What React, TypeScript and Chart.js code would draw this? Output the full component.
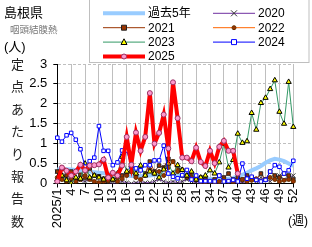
import React, { useEffect, useRef } from 'react';
import { Chart, registerables } from 'chart.js';
Chart.register(...registerables);

const weeks = ['2025/1','2','3','4','5','6','7','8','9','10','11','12','13','14','15','16','17','18','19','20','21','22','23','24','25','26','27','28','29','30','31','32','33','34','35','36','37','38','39','40','41','42','43','44','45','46','47','48','49','50','51','52'];
const yTicks = [0, 0.5, 1, 1.5, 2, 2.5, 3];
const seriesNames = ['過去5年', '2020', '2021', '2022', '2023', '2024', '2025'];

const past5 = [0.35,0.36,0.36,0.35,0.34,0.33,0.32,0.3,0.28,0.27,0.26,0.25,0.24,0.22,0.2,0.2,0.19,0.19,0.18,0.2,0.2,0.22,0.22,0.23,0.25,0.25,0.22,0.2,0.18,0.16,0.14,0.13,0.12,0.11,0.11,0.1,0.1,0.12,0.14,0.18,0.22,0.27,0.33,0.38,0.44,0.52,0.58,0.62,0.6,0.56,0.5,0.44];
const y2020 = [0.3,0.2,0.15,0.1,0.05,0.08,0.05,0.1,0.05,0.02,0.05,0.02,0.0,0.02,0.05,0.02,0.0,0.02,0.05,0.02,0.02,0.05,0.1,0.05,0.02,0.05,0.02,0.05,0.1,0.05,0.02,0.0,0.02,0.05,0.02,0.0,0.02,0.05,0.02,0.05,0.02,0.05,0.1,0.05,0.15,0.1,0.05,0.15,0.2,0.1,0.15,0.2];
const y2021 = [0.3,0.15,0.2,0.3,0.1,0.22,0.15,0.38,0.2,0.18,0.12,0.05,0.1,0.15,0.2,0.25,0.3,0.2,0.35,0.25,0.55,0.3,0.45,0.4,0.62,0.55,0.35,0.2,0.15,0.25,0.1,0.15,0.1,0.05,0.1,0.2,0.15,0.25,0.1,0.15,0.1,0.2,0.15,0.1,0.25,0.1,0.3,0.2,0.15,0.25,0.2,0.1];
const y2022 = [0.15,0.1,0.05,0.12,0.05,0.1,0.2,0.1,0.05,0.02,0.05,0.08,0.1,0.05,0.12,0.2,0.3,0.15,0.1,0.2,0.35,0.25,0.3,0.2,0.4,0.55,0.3,0.35,0.2,0.15,0.1,0.05,0.02,0.05,0.02,0.05,0.1,0.05,0.02,0.05,0.1,0.05,0.08,0.12,0.05,0.1,0.15,0.1,0.05,0.08,0.1,0.05];
const y2023 = [0.1,0.2,0.08,0.0,0.15,0.12,0.5,0.15,0.2,0.15,0.1,0.2,0.1,0.25,0.67,0.3,0.45,0.25,0.45,0.2,0.3,0.25,0.15,0.35,0.5,0.25,0.46,0.34,0.2,0.3,0.1,0.15,0.2,0.33,0.25,0.53,1.0,0.4,0.59,1.25,1.02,1.06,1.77,1.35,2.02,2.15,2.37,2.59,1.8,1.5,2.55,1.42];
const y2024 = [1.15,1.05,1.21,1.27,1.1,0.86,0.42,0.56,0.65,1.44,0.82,0.82,0.46,0.53,0.83,0.83,0.42,0.38,0.33,0.46,0.46,0.58,0.58,0.95,0.25,0.17,0.13,0.21,0.34,0.1,0.2,0.06,0.06,0.06,0.05,0.2,0.05,0.06,0.09,0.05,0.5,0.12,0.17,0.09,0.05,0.09,0.3,0.46,0.42,0.25,0.33,0.57];
const y2025 = [0.05,0.4,0.32,0.2,0.3,0.47,0.33,0.45,0.46,0.48,0.6,0.15,0.27,0.2,0.45,1.17,0.47,1.28,0.82,1.17,2.27,1.0,1.27,1.73,0.88,2.54,1.64,0.65,0.65,0.56,0.9,0.54,0.44,0.82,0.51,0.92,1.07,0.82,0.82,0.25];

const FONT = '"Liberation Sans", "Noto Sans CJK JP", sans-serif';

type Sty = { color: string; width: number; point: string; r: number; bg: string; bd: string };
const styles: Sty[] = [
  { color: '#99ccff', width: 4, point: 'none', r: 0, bg: '#99ccff', bd: '#99ccff' },
  { color: '#7030a0', width: 1, point: 'crossRot', r: 3, bg: '#333333', bd: '#333333' },
  { color: '#993300', width: 1, point: 'rect', r: 2.5, bg: '#993300', bd: '#222222' },
  { color: '#ff6600', width: 1, point: 'circle', r: 2, bg: '#993300', bd: '#663300' },
  { color: '#339966', width: 1, point: 'triangle', r: 3, bg: '#ffff00', bd: '#000000' },
  { color: '#0000ff', width: 1, point: 'rect', r: 2.5, bg: '#ffffff', bd: '#0000ff' },
  { color: '#ff0000', width: 4, point: 'circle', r: 2.5, bg: '#ff99cc', bd: '#993366' },
];
const seriesData = [past5, y2020, y2021, y2022, y2023, y2024, y2025];

function drawMarker(ctx: CanvasRenderingContext2D, s: Sty, x: number, y: number) {
  if (s.point === 'none') return;
  ctx.save();
  ctx.lineWidth = 1;
  ctx.fillStyle = s.bg;
  ctx.strokeStyle = s.bd;
  const r = s.r;
  ctx.beginPath();
  if (s.point === 'rect') {
    ctx.rect(x - r, y - r, 2 * r, 2 * r);
    ctx.fill(); ctx.stroke();
  } else if (s.point === 'circle') {
    ctx.arc(x, y, r, 0, Math.PI * 2);
    ctx.fill(); ctx.stroke();
  } else if (s.point === 'triangle') {
    ctx.moveTo(x, y - r * 1.1);
    ctx.lineTo(x + r, y + r * 0.8);
    ctx.lineTo(x - r, y + r * 0.8);
    ctx.closePath();
    ctx.fill(); ctx.stroke();
  } else if (s.point === 'crossRot') {
    ctx.moveTo(x - r, y - r); ctx.lineTo(x + r, y + r);
    ctx.moveTo(x + r, y - r); ctx.lineTo(x - r, y + r);
    ctx.stroke();
  }
  ctx.restore();
}

const legendPlugin = {
  id: 'customLegend',
  afterDraw(chart: any) {
    const ctx: CanvasRenderingContext2D = chart.ctx;
    ctx.save();
    ctx.fillStyle = '#ffffff';
    ctx.strokeStyle = '#bfbfbf';
    ctx.lineWidth = 1;
    ctx.fillRect(89.5, -1, 219.5, 63.5);
    ctx.strokeRect(89.5, -1, 219.5, 63.5);
    ctx.font = '12px ' + FONT;
    ctx.textBaseline = 'middle';
    ctx.textAlign = 'left';
    seriesNames.forEach((name, i) => {
      const col = i % 2;
      const row = Math.floor(i / 2);
      const x1 = col === 0 ? 103 : 213;
      const x2 = x1 + 42;
      const y = 13.3 + row * 14.4;
      const s = styles[i];
      ctx.strokeStyle = s.color;
      ctx.lineWidth = s.width;
      ctx.beginPath();
      ctx.moveTo(x1, y);
      ctx.lineTo(x2, y);
      ctx.stroke();
      drawMarker(ctx, s, (x1 + x2) / 2, y);
      ctx.fillStyle = '#000000';
      ctx.fillText(name, x2 + 3, y + 0.5);
    });
    ctx.restore();
  },
};

export default function App() {
  const ref = useRef<HTMLCanvasElement>(null);
  useEffect(() => {
    if (!ref.current) return;
    const datasets = seriesNames.map((name, i) => {
      const s = styles[i];
      return {
        label: name,
        data: seriesData[i],
        borderColor: s.color,
        backgroundColor: s.color,
        borderWidth: s.width,
        pointStyle: s.point === 'none' ? 'circle' : s.point,
        pointRadius: s.point === 'none' ? 0 : s.r,
        pointBackgroundColor: s.bg,
        pointBorderColor: s.bd,
        pointBorderWidth: 1,
        tension: 0,
        order: 6 - i + (i === 0 ? 10 : 0),
      };
    });
    const chart = new Chart(ref.current, {
      type: 'line',
      data: { labels: weeks, datasets },
      plugins: [legendPlugin],
      options: {
        animation: false,
        responsive: false,
        devicePixelRatio: 1,
        layout: { padding: { top: 64, right: 18.7, bottom: 0, left: 0 } },
        plugins: { legend: { display: false }, tooltip: { enabled: false } },
        scales: {
          x: {
            type: 'category',
            offset: false,
            afterFit: (s: any) => { s.height = 63.5; },
            grid: {
              color: (c: any) => (c.index % 3 === 0 && c.index !== 0 ? '#bfbfbf' : 'rgba(0,0,0,0)'),
              tickColor: (c: any) => (c.index % 3 === 0 ? '#000000' : 'rgba(0,0,0,0)'),
              tickLength: 4,
              lineWidth: 1,
            },
            border: { color: '#000000', width: 1 },
            ticks: {
              autoSkip: false,
              minRotation: 90,
              maxRotation: 90,
              padding: 1,
              color: '#000000',
              font: { family: FONT, size: 13 },
              callback: (_v: any, idx: number) => (idx % 3 === 0 ? weeks[idx] : ''),
            },
          },
          y: {
            min: 0,
            max: 3,
            afterFit: (s: any) => { s.width = 57.3; },
            afterBuildTicks: (s: any) => { s.ticks = yTicks.map((v) => ({ value: v })); },
            grid: {
              color: '#bfbfbf',
              tickColor: '#000000',
              tickLength: 4,
              tickBorderDash: [],
            },
            border: { color: '#000000', width: 1, dash: [3, 2] },
            ticks: {
              padding: 6,
              color: '#000000',
              font: { family: FONT, size: 13 },
              callback: (v: any) => String(v),
            },
          },
        },
      } as any,
    });
    return () => chart.destroy();
  }, []);

  const yTitle = '定点あたり報告数'.split('');
  return (
    <div style={{ position: 'absolute', left: 0, top: 0, width: 312, height: 247, background: '#fff', fontFamily: FONT }}>
      <canvas ref={ref} width={312} height={247} style={{ position: 'absolute', left: 0, top: 0 }} />
      <div style={{ position: 'absolute', left: 4, top: 5, fontSize: 13, lineHeight: '16px', color: '#000' }}>島根県</div>
      <div style={{ position: 'absolute', left: 10, top: 24, fontSize: 9.5, lineHeight: '12px', color: '#777' }}>咽頭結膜熱</div>
      <div style={{ position: 'absolute', left: 4, top: 39, fontSize: 13, lineHeight: '16px', color: '#000' }}>(人)</div>
      {yTitle.map((ch, i) => (
        <div key={i} style={{ position: 'absolute', left: 10, width: 15, textAlign: 'center', top: 65 - 8 + i * 22.4, fontSize: 13, lineHeight: '16px', color: '#222' }}>{ch}</div>
      ))}
      <div style={{ position: 'absolute', left: 288, top: 213, fontSize: 12, lineHeight: '16px', color: '#000' }}>(週)</div>
    </div>
  );
}
